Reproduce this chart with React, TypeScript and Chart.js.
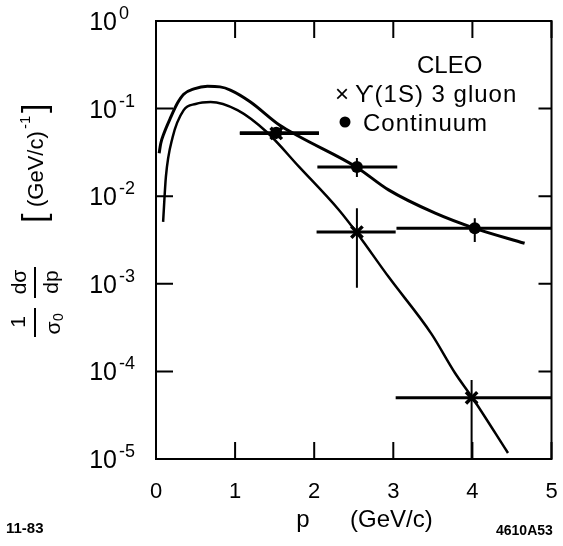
import React, { useEffect, useRef } from "react";
import { Chart, registerables } from "chart.js";

Chart.register(...registerables);

// ---- axis ticks ----
const xTicks = [0, 1, 2, 3, 4, 5];
const yDecades = [0, -1, -2, -3, -4, -5];

// ---- fitted curves ----
const continuumCurveX = [0.04, 0.06, 0.1, 0.19, 0.27, 0.35, 0.48, 0.65, 0.81, 0.94, 1.19, 1.56, 1.81, 2.53, 2.94, 3.53, 4.03, 4.66];
const continuumCurveY = [0.031, 0.04, 0.052, 0.081, 0.115, 0.146, 0.168, 0.18, 0.177, 0.163, 0.12, 0.065, 0.048, 0.0216, 0.0118, 0.0064, 0.0043, 0.0029];

const gluonCurveX = [0.09, 0.125, 0.21, 0.35, 0.5, 0.69, 1.03, 1.4, 1.81, 2.31, 2.54, 2.94, 3.48, 3.78, 4.0, 4.45];
const gluonCurveY = [0.0051, 0.0166, 0.047, 0.096, 0.113, 0.119, 0.096, 0.054, 0.0216, 0.007, 0.0038, 0.0012, 0.00027, 0.000096, 0.00005, 0.0000117];

// ---- data points: Upsilon(1S) 3 gluon ----
const gluonX = [1.52, 2.54, 3.99];
const gluonY = [0.052, 0.0039, 0.00005];
const gluonXLo = [1.06, 2.03, 3.03];
const gluonXHi = [2.06, 3.03, 5.0];
const gluonYLo = [0.045, 0.0009, 0.00001];
const gluonYHi = [0.06, 0.0073, 0.00008];

// ---- data points: continuum ----
const contX = [1.52, 2.54, 4.03];
const contY = [0.053, 0.0215, 0.0043];
const contXLo = [1.06, 2.04, 3.04];
const contXHi = [2.06, 3.05, 5.0];
const contYLo = [0.047, 0.0166, 0.003];
const contYHi = [0.061, 0.0273, 0.0056];

const FONT = '"Liberation Sans", "DejaVu Sans", sans-serif';

const decorations = {
  id: "decorations",
  beforeDraw(chart: any) {
    const { ctx, width, height } = chart;
    ctx.save();
    ctx.fillStyle = "#fff";
    ctx.fillRect(0, 0, width, height);
    ctx.restore();
  },
  afterDraw(chart: any) {
    const { ctx, chartArea } = chart;
    const { left, right, top, bottom } = chartArea;
    const xs = chart.scales.x;
    const ys = chart.scales.y;
    ctx.save();
    ctx.strokeStyle = "#000";
    ctx.fillStyle = "#000";
    ctx.lineWidth = 2;
    ctx.strokeRect(left, top, right - left, bottom - top);

    // inward ticks
    ctx.beginPath();
    for (const v of xTicks) {
      const px = xs.getPixelForValue(v);
      ctx.moveTo(px, bottom);
      ctx.lineTo(px, bottom - 17);
      ctx.moveTo(px, top);
      ctx.lineTo(px, top + 17);
    }
    for (const e of yDecades) {
      const py = ys.getPixelForValue(Math.pow(10, e));
      ctx.moveTo(left, py);
      ctx.lineTo(left + 17, py);
      ctx.moveTo(right, py);
      ctx.lineTo(right - 13, py);
    }
    ctx.stroke();

    // x tick labels
    ctx.font = `22px ${FONT}`;
    ctx.textAlign = "center";
    ctx.textBaseline = "alphabetic";
    for (const v of xTicks) {
      ctx.fillText(String(v), xs.getPixelForValue(v), bottom + 39);
    }

    // y tick labels 10^n
    for (const e of yDecades) {
      const py = ys.getPixelForValue(Math.pow(10, e));
      ctx.font = `25px ${FONT}`;
      ctx.textAlign = "right";
      ctx.fillText("10", left - 39, py + 9);
      ctx.font = `18px ${FONT}`;
      ctx.textAlign = "left";
      ctx.fillText(e === 0 ? "0" : "-" + String(-e), left - 37, py - 2);
    }

    // x title
    ctx.font = `24px ${FONT}`;
    ctx.textAlign = "center";
    ctx.fillText("p", 303, 527);
    ctx.textAlign = "left";
    ctx.fillText("(GeV/c)", 350, 527);

    // footnotes
    ctx.font = `bold 15px ${FONT}`;
    ctx.textAlign = "left";
    ctx.fillText("11-83", 6, 533);
    ctx.font = `bold 14px ${FONT}`;
    ctx.fillText("4610A53", 496, 535);

    // legend
    ctx.font = `24px ${FONT}`;
    ctx.textAlign = "left";
    ctx.fillText("CLEO", 417, 73);
    ctx.fillText("\u00d7", 335, 102);
    try { (ctx as any).letterSpacing = "1px"; } catch (_) {}
    ctx.fillText("\u03d2(1S) 3 gluon", 355, 102);
    ctx.fillText("Continuum", 363, 131);
    try { (ctx as any).letterSpacing = "0px"; } catch (_) {}
    ctx.beginPath();
    ctx.arc(345, 122, 5.5, 0, Math.PI * 2);
    ctx.fill();

    // y title (rotated)
    ctx.save();
    ctx.translate(34, 0);
    ctx.rotate(-Math.PI / 2);
    ctx.lineWidth = 2;
    ctx.textAlign = "center";
    ctx.textBaseline = "middle";
    ctx.font = `21px ${FONT}`;
    ctx.fillText("1", -322, -15);
    ctx.fillText("\u03c3", -328, 20);
    ctx.font = `14px ${FONT}`;
    ctx.fillText("0", -317, 25);
    ctx.font = `21px ${FONT}`;
    ctx.fillText("d\u03c3", -282, -14);
    ctx.fillText("dp", -282, 18);
    ctx.beginPath();
    ctx.moveTo(-337, 1);
    ctx.lineTo(-308, 1);
    ctx.moveTo(-298, 1);
    ctx.lineTo(-267, 1);
    ctx.stroke();
    ctx.textAlign = "left";
    ctx.font = `34px ${FONT}`;
    ctx.fillText("[", -223, 2);
    ctx.font = `22px ${FONT}`;
    ctx.fillText("(GeV/c)", -207, 3);
    ctx.font = `15px ${FONT}`;
    ctx.fillText("-1", -129, -8);
    ctx.font = `34px ${FONT}`;
    ctx.fillText("]", -113, 2);
    ctx.restore();

    ctx.restore();
  },
};

function pts(xs: number[], ys: number[]) {
  return xs.map((x, i) => ({ x, y: ys[i] }));
}

export default function App() {
  const ref = useRef<HTMLCanvasElement>(null);
  useEffect(() => {
    document.body.style.margin = "0";
    const canvas = ref.current!;
    const errorSets: any[] = [];
    const addBars = (x: number[], y: number[], xlo: number[], xhi: number[], ylo: number[], yhi: number[]) => {
      x.forEach((xv, i) => {
        errorSets.push({
          type: "scatter",
          data: [{ x: xlo[i], y: y[i] }, { x: xhi[i], y: y[i] }],
          showLine: true,
          borderColor: "#000",
          borderWidth: 3,
          pointRadius: 0,
        });
        errorSets.push({
          type: "scatter",
          data: [{ x: xv, y: ylo[i] }, { x: xv, y: yhi[i] }],
          showLine: true,
          borderColor: "#000",
          borderWidth: 2,
          pointRadius: 0,
        });
      });
    };
    addBars(gluonX, gluonY, gluonXLo, gluonXHi, gluonYLo, gluonYHi);
    addBars(contX, contY, contXLo, contXHi, contYLo, contYHi);

    const chart = new Chart(canvas, {
      type: "scatter",
      data: {
        datasets: [
          {
            label: "3 gluon",
            data: pts(gluonX, gluonY),
            pointStyle: "crossRot",
            pointRadius: 8,
            borderWidth: 3.5,
            borderColor: "#000",
            backgroundColor: "#000",
          },
          {
            label: "Continuum",
            data: pts(contX, contY),
            pointStyle: "circle",
            pointRadius: 6,
            borderWidth: 0,
            backgroundColor: "#000",
            borderColor: "#000",
          },
          ...errorSets,
          {
            label: "continuum fit",
            data: pts(continuumCurveX, continuumCurveY),
            showLine: true,
            cubicInterpolationMode: "monotone",
            borderColor: "#000",
            borderWidth: 3,
            pointRadius: 0,
          },
          {
            label: "gluon fit",
            data: pts(gluonCurveX, gluonCurveY),
            showLine: true,
            cubicInterpolationMode: "monotone",
            borderColor: "#000",
            borderWidth: 2.5,
            pointRadius: 0,
          },
        ] as any,
      },
      options: {
        responsive: false,
        animation: false,
        devicePixelRatio: 1,
        layout: { padding: { left: 156, right: 8, top: 21, bottom: 87 } },
        plugins: { legend: { display: false }, tooltip: { enabled: false } },
        scales: {
          x: { type: "linear", min: 0, max: 5, display: false },
          y: { type: "logarithmic", min: 1e-5, max: 1, display: false },
        },
      },
      plugins: [decorations],
    });
    return () => chart.destroy();
  }, []);
  return (
    <div style={{ width: 563, height: 546 }}>
      <canvas ref={ref} width={563} height={546} style={{ display: "block" }} />
    </div>
  );
}
